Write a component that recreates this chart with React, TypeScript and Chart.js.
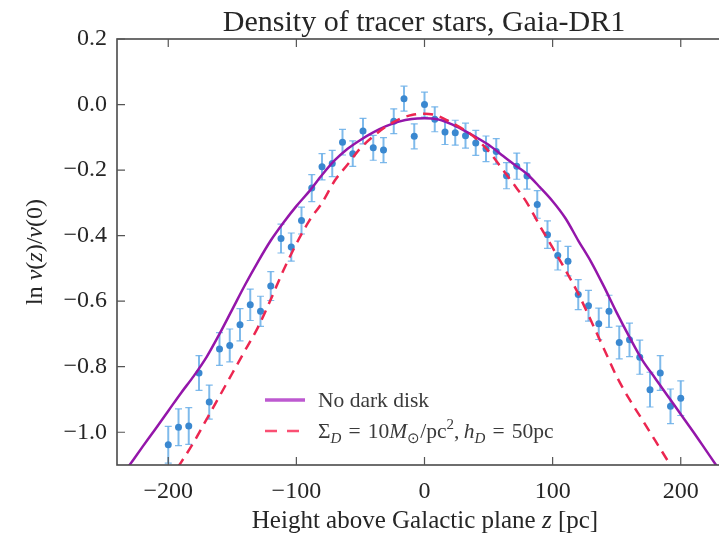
import React, { useEffect, useRef } from "react";
import { Chart, registerables } from "chart.js";

Chart.register(...registerables);

// ---- data ----
const starZ = [
  -200, -192, -184, -176, -168, -160, -152, -144, -136, -128, -120, -112, -104, -96, -88, -80, -72, -64, -56, -48, -40, -32, -24, -16, -8, 0,
  8, 16, 24, 32, 40, 48, 56, 64, 72, 80, 88, 96, 104, 112, 120, 128, 136, 144, 152, 160, 168, 176, 184, 192, 200,
];
const starLnNu = [
  -1.038, -0.985, -0.981, -0.819, -0.908, -0.746, -0.735, -0.672, -0.611, -0.631, -0.554, -0.409, -0.435, -0.354, -0.255, -0.19, -0.18, -0.115, -0.15, -0.081, -0.132, -0.139, -0.051, 0.018, -0.097, 0.0,
  -0.045, -0.084, -0.086, -0.095, -0.117, -0.135, -0.143, -0.217, -0.188, -0.218, -0.305, -0.397, -0.461, -0.478, -0.58, -0.614, -0.669, -0.631, -0.726, -0.718, -0.771, -0.87, -0.819, -0.921, -0.896,
];
const starErr = [
  0.056, 0.056, 0.056, 0.053, 0.052, 0.05, 0.05, 0.049, 0.048, 0.046, 0.044, 0.044, 0.043, 0.041, 0.041, 0.04, 0.04, 0.039, 0.039, 0.039, 0.038, 0.038, 0.038, 0.038, 0.038, 0.038,
  0.038, 0.038, 0.038, 0.038, 0.038, 0.039, 0.039, 0.04, 0.04, 0.04, 0.042, 0.042, 0.044, 0.045, 0.046, 0.047, 0.048, 0.049, 0.05, 0.051, 0.052, 0.053, 0.053, 0.053, 0.053,
];

const noDarkZ = [
  -240, -230, -220, -210, -200, -190, -180, -170, -160, -150, -140, -130, -120, -110, -100, -90, -80, -70, -60, -50, -40, -30, -20, -10, 0,
  10, 20, 30, 40, 50, 60, 70, 80, 90, 100, 110, 120, 130, 140, 150, 160, 170, 180, 190, 200, 210, 220, 230, 240,
];
const noDarkLnNu = [
  -1.154, -1.099, -1.044, -0.99, -0.935, -0.88, -0.828, -0.77, -0.7, -0.625, -0.55, -0.48, -0.415, -0.36, -0.31, -0.265, -0.215, -0.17, -0.135, -0.108, -0.085, -0.066, -0.052, -0.044, -0.042,
  -0.045, -0.058, -0.077, -0.099, -0.123, -0.153, -0.183, -0.212, -0.252, -0.295, -0.347, -0.415, -0.48, -0.555, -0.635, -0.71, -0.78, -0.835, -0.89, -0.945, -1.0, -1.057, -1.114, -1.17,
];

const darkZ = [
  -200, -190, -180, -170, -160, -150, -140, -130, -120, -110, -100, -90, -80, -70, -60, -50, -40, -30, -20, -10, 0,
  10, 20, 30, 40, 50, 60, 70, 80, 90, 100, 110, 120, 130, 140, 150, 160, 170, 180, 190, 200,
];
const darkLnNu = [
  -1.15, -1.092, -1.03, -0.96, -0.89, -0.82, -0.75, -0.68, -0.595, -0.505, -0.425, -0.355, -0.3, -0.232, -0.183, -0.133, -0.097, -0.067, -0.045, -0.032, -0.028,
  -0.034, -0.053, -0.075, -0.103, -0.142, -0.193, -0.245, -0.3, -0.37, -0.437, -0.505, -0.577, -0.66, -0.745, -0.83, -0.9, -0.962, -1.025, -1.088, -1.15,
];

const xTicks = [-200, -100, 0, 100, 200];
const yTicks = [0.2, 0.0, -0.2, -0.4, -0.6, -0.8, -1.0];

// ---- styling ----
const FONT = '"Liberation Serif", "Times New Roman", serif';
const TEXT_COLOR = "#262626";
const PURPLE = "rgb(148,22,170)";
const RED = "rgb(236,38,80)";
const POINT_COLOR = "rgb(58,136,208)";
const ERR_COLOR = "rgba(104,174,232,0.85)";

type Part = { t: string; it?: boolean; sub?: boolean; sup?: boolean };

function partFont(p: Part, size: number) {
  const s = p.sub || p.sup ? Math.round(size * 0.7) : size;
  return `${p.it ? "italic " : ""}${s}px ${FONT}`;
}
function measureRich(ctx: CanvasRenderingContext2D, parts: Part[], size: number) {
  let w = 0;
  for (const p of parts) {
    ctx.font = partFont(p, size);
    w += ctx.measureText(p.t).width;
  }
  return w;
}
function drawRich(ctx: CanvasRenderingContext2D, parts: Part[], x: number, y: number, size: number) {
  let cx = x;
  ctx.textAlign = "left";
  ctx.textBaseline = "alphabetic";
  for (const p of parts) {
    ctx.font = partFont(p, size);
    const dy = p.sub ? size * 0.25 : p.sup ? -size * 0.4 : 0;
    ctx.fillText(p.t, cx, y + dy);
    cx += ctx.measureText(p.t).width;
  }
}

const fmtMinus = (s: string) => s.replace("-", "\u2212");

const errorBarPlugin = {
  id: "errorBars",
  beforeDatasetsDraw(chart: any) {
    const { ctx, chartArea, scales } = chart;
    ctx.save();
    ctx.beginPath();
    ctx.rect(chartArea.left, chartArea.top, chartArea.right - chartArea.left, chartArea.bottom - chartArea.top);
    ctx.clip();
    ctx.strokeStyle = ERR_COLOR;
    for (let i = 0; i < starZ.length; i++) {
      const x = scales.x.getPixelForValue(starZ[i]);
      const y1 = scales.y.getPixelForValue(starLnNu[i] + starErr[i]);
      const y2 = scales.y.getPixelForValue(starLnNu[i] - starErr[i]);
      ctx.lineWidth = 2;
      ctx.beginPath();
      ctx.moveTo(x, y1);
      ctx.lineTo(x, y2);
      ctx.stroke();
      ctx.lineWidth = 1.2;
      ctx.beginPath();
      ctx.moveTo(x - 3.5, y1);
      ctx.lineTo(x + 3.5, y1);
      ctx.moveTo(x - 3.5, y2);
      ctx.lineTo(x + 3.5, y2);
      ctx.stroke();
    }
    ctx.restore();
  },
};

const framePlugin = {
  id: "frame",
  afterDraw(chart: any) {
    const { ctx, chartArea, scales } = chart;
    const { left, right, top, bottom } = chartArea;
    ctx.save();
    ctx.strokeStyle = "#4a4a4a";
    ctx.lineWidth = 1.6;
    ctx.strokeRect(left, top, right - left, bottom - top);
    ctx.lineWidth = 1.2;
    ctx.strokeStyle = "#555";
    const tl = 8;
    ctx.beginPath();
    for (const v of xTicks) {
      const x = scales.x.getPixelForValue(v);
      ctx.moveTo(x, bottom);
      ctx.lineTo(x, bottom - tl);
      ctx.moveTo(x, top);
      ctx.lineTo(x, top + tl);
    }
    for (const v of yTicks) {
      const y = scales.y.getPixelForValue(v);
      ctx.moveTo(left, y);
      ctx.lineTo(left + tl, y);
      ctx.moveTo(right, y);
      ctx.lineTo(right - tl, y);
    }
    ctx.stroke();
    ctx.restore();
  },
};

const textPlugin = {
  id: "texts",
  afterDraw(chart: any) {
    const { ctx } = chart;
    ctx.save();
    ctx.fillStyle = TEXT_COLOR;

    // title
    const title: Part[] = [{ t: "Density of tracer stars, Gaia-DR1" }];
    const tw = measureRich(ctx, title, 30);
    drawRich(ctx, title, 424 - tw / 2, 31, 30);

    // x label
    const xl: Part[] = [{ t: "Height above Galactic plane " }, { t: "z", it: true }, { t: " [pc]" }];
    const xw = measureRich(ctx, xl, 25);
    drawRich(ctx, xl, 425 - xw / 2, 528, 25);

    // y label
    const yl: Part[] = [
      { t: "ln " },
      { t: "\u03BD", it: true },
      { t: "(" },
      { t: "z", it: true },
      { t: ")/" },
      { t: "\u03BD", it: true },
      { t: "(0)" },
    ];
    const yw = measureRich(ctx, yl, 24);
    ctx.save();
    ctx.translate(42, 252);
    ctx.rotate(-Math.PI / 2);
    drawRich(ctx, yl, -yw / 2, 0, 24);
    ctx.restore();

    // legend
    ctx.save();
    ctx.lineCap = "butt";
    ctx.strokeStyle = "rgba(178,60,200,0.85)";
    ctx.lineWidth = 3.5;
    ctx.beginPath();
    ctx.moveTo(265, 400);
    ctx.lineTo(305, 400);
    ctx.stroke();
    ctx.strokeStyle = "rgba(250,60,100,0.9)";
    ctx.lineWidth = 2.5;
    ctx.setLineDash([12, 10]);
    ctx.beginPath();
    ctx.moveTo(265, 431);
    ctx.lineTo(305, 431);
    ctx.stroke();
    ctx.restore();

    ctx.fillStyle = "#3a3a3a";
    drawRich(ctx, [{ t: "No dark disk" }], 318, 407, 21.5);
    drawRich(
      ctx,
      [
        { t: "\u03A3" },
        { t: "D", it: true, sub: true },
        { t: "\u2004=\u200410" },
        { t: "M", it: true },
        { t: "\u2299", sub: true },
        { t: "/pc" },
        { t: "2", sup: true },
        { t: ",\u2009" },
        { t: "h", it: true },
        { t: "D", it: true, sub: true },
        { t: "\u2004=\u200450pc" },
      ],
      318,
      438,
      21.5
    );
    ctx.restore();
  },
};

export default function App() {
  const canvasRef = useRef<HTMLCanvasElement | null>(null);

  useEffect(() => {
    if (!canvasRef.current) return;
    const chart = new Chart(canvasRef.current, {
      type: "scatter",
      data: {
        datasets: [
          {
            label: "No dark disk",
            data: noDarkZ.map((z, i) => ({ x: z, y: noDarkLnNu[i] })),
            showLine: true,
            borderColor: PURPLE,
            borderWidth: 2.5,
            pointRadius: 0,
            fill: false,
            cubicInterpolationMode: "monotone",
            clip: 0,
            order: 1,
          } as any,
          {
            label: "Dark disk",
            data: darkZ.map((z, i) => ({ x: z, y: darkLnNu[i] })),
            showLine: true,
            borderColor: RED,
            borderWidth: 2.5,
            borderDash: [10, 7],
            pointRadius: 0,
            fill: false,
            cubicInterpolationMode: "monotone",
            clip: 0,
            order: 0,
          } as any,
          {
            label: "Tracer stars",
            data: starZ.map((z, i) => ({ x: z, y: starLnNu[i] })),
            showLine: false,
            pointRadius: 3.5,
            pointBackgroundColor: POINT_COLOR,
            pointBorderWidth: 0,
            order: 2,
          } as any,
        ],
      },
      options: {
        responsive: false,
        animation: false,
        devicePixelRatio: 1,
        layout: { padding: { top: 39, right: 1, left: 0, bottom: 0 } },
        plugins: {
          legend: { display: false },
          tooltip: { enabled: false },
          title: { display: false },
        },
        scales: {
          x: {
            type: "linear",
            min: -240,
            max: 240,
            afterBuildTicks: (s: any) => {
              s.ticks = xTicks.map((v) => ({ value: v }));
            },
            afterFit: (s: any) => {
              s.height = 70;
            },
            grid: { display: false, drawTicks: false },
            border: { display: false },
            ticks: {
              padding: 12,
              color: TEXT_COLOR,
              font: { family: FONT, size: 24 },
              maxRotation: 0,
              autoSkip: false,
              callback: (v: any) => fmtMinus(String(v)),
            },
          },
          y: {
            type: "linear",
            min: -1.1,
            max: 0.2,
            afterBuildTicks: (s: any) => {
              s.ticks = yTicks.map((v) => ({ value: v }));
            },
            afterFit: (s: any) => {
              s.width = 117;
            },
            grid: { display: false, drawTicks: false },
            border: { display: false },
            ticks: {
              padding: 10,
              color: TEXT_COLOR,
              font: { family: FONT, size: 24 },
              autoSkip: false,
              callback: (v: any) => fmtMinus(Number(v).toFixed(1)),
            },
          },
        },
      } as any,
      plugins: [errorBarPlugin, framePlugin, textPlugin],
    });
    return () => chart.destroy();
  }, []);

  return (
    <div
      style={{
        position: "fixed",
        left: 0,
        top: 0,
        width: 719,
        height: 535,
        overflow: "hidden",
        background: "#fff",
      }}
    >
      <canvas ref={canvasRef} width={736} height={535} style={{ display: "block" }} />
    </div>
  );
}
